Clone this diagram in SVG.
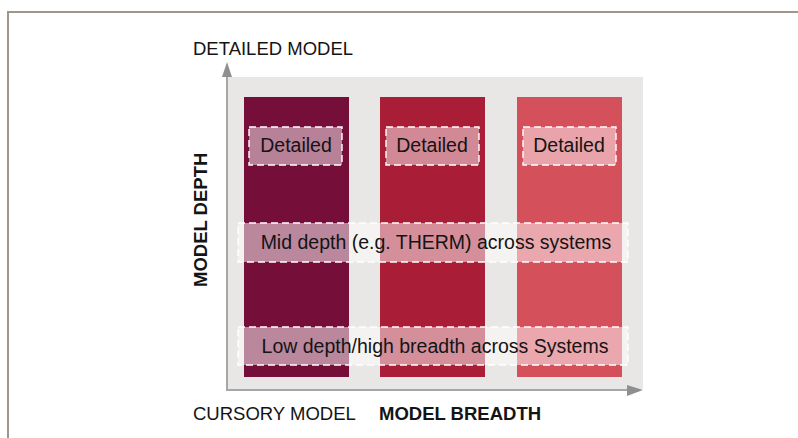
<svg xmlns="http://www.w3.org/2000/svg" width="798" height="438" viewBox="0 0 798 438">
  <style>
    .lbl { font-family: "Liberation Sans", Arial, sans-serif; fill: #141414; }
    .axislbl { font-size: 18.5px; }
    .bold { font-weight: bold; }
    .inner { font-size: 19.5px; text-anchor: middle; }
    .tag { fill: #ffffff; fill-opacity: 0.48; stroke: #ffffff; stroke-width: 1.4; stroke-dasharray: 7 4; }
    .band { fill: #ffffff; fill-opacity: 0.5; stroke: #ffffff; stroke-width: 1.4; stroke-dasharray: 7 4; }
    .axis { stroke: #a6a6a6; stroke-width: 2; fill: none; }
    .head { fill: #8f8f8f; }
  </style>

  <rect width="798" height="438" fill="#ffffff"/>

  <!-- outer frame (open to the right and bottom) -->
  <path d="M8,438 V12 H798" fill="none" stroke="#9e958b" stroke-width="2"/>

  <!-- plotting area -->
  <rect x="228" y="77" width="415" height="312" fill="#e8e7e5"/>

  <!-- system columns -->
  <g id="column-1"><rect x="244" y="97" width="105" height="280" fill="#750f3a"/></g>
  <g id="column-2"><rect x="380" y="97" width="105" height="280" fill="#a91e36"/></g>
  <g id="column-3"><rect x="517" y="97" width="105" height="280" fill="#d4515c"/></g>

  <!-- detailed model tags -->
  <g id="detailed-1">
    <rect class="tag" x="249" y="127" width="93" height="38"/>
    <text class="lbl inner" x="296" y="152">Detailed</text>
  </g>
  <g id="detailed-2">
    <rect class="tag" x="386" y="127" width="93" height="38"/>
    <text class="lbl inner" x="432" y="152">Detailed</text>
  </g>
  <g id="detailed-3">
    <rect class="tag" x="523" y="127" width="93" height="38"/>
    <text class="lbl inner" x="569" y="152">Detailed</text>
  </g>

  <!-- cross-system bands -->
  <g id="mid-depth">
    <rect class="band" x="238" y="223" width="390" height="39"/>
    <text class="lbl inner" x="436" y="249">Mid depth (e.g. THERM) across systems</text>
  </g>
  <g id="low-depth">
    <rect class="band" x="238" y="327" width="390" height="38"/>
    <text class="lbl inner" x="435" y="353">Low depth/high breadth across Systems</text>
  </g>

  <!-- axes -->
  <g id="connectors">
    <path class="axis" d="M227,390 V76"/>
    <polygon class="head" points="227,62 222,77 232,77"/>
    <path class="axis" d="M226,390 H628"/>
    <polygon class="head" points="643,390 627,385 627,396"/>
  </g>

  <!-- axis labels -->
  <g id="axis-labels">
    <text class="lbl axislbl" x="193" y="55">DETAILED MODEL</text>
    <text class="lbl axislbl" x="193" y="420">CURSORY MODEL</text>
    <text class="lbl axislbl bold" x="379" y="420">MODEL BREADTH</text>
    <text class="lbl axislbl bold" transform="translate(207,287) rotate(-90)">MODEL DEPTH</text>
  </g>
</svg>
